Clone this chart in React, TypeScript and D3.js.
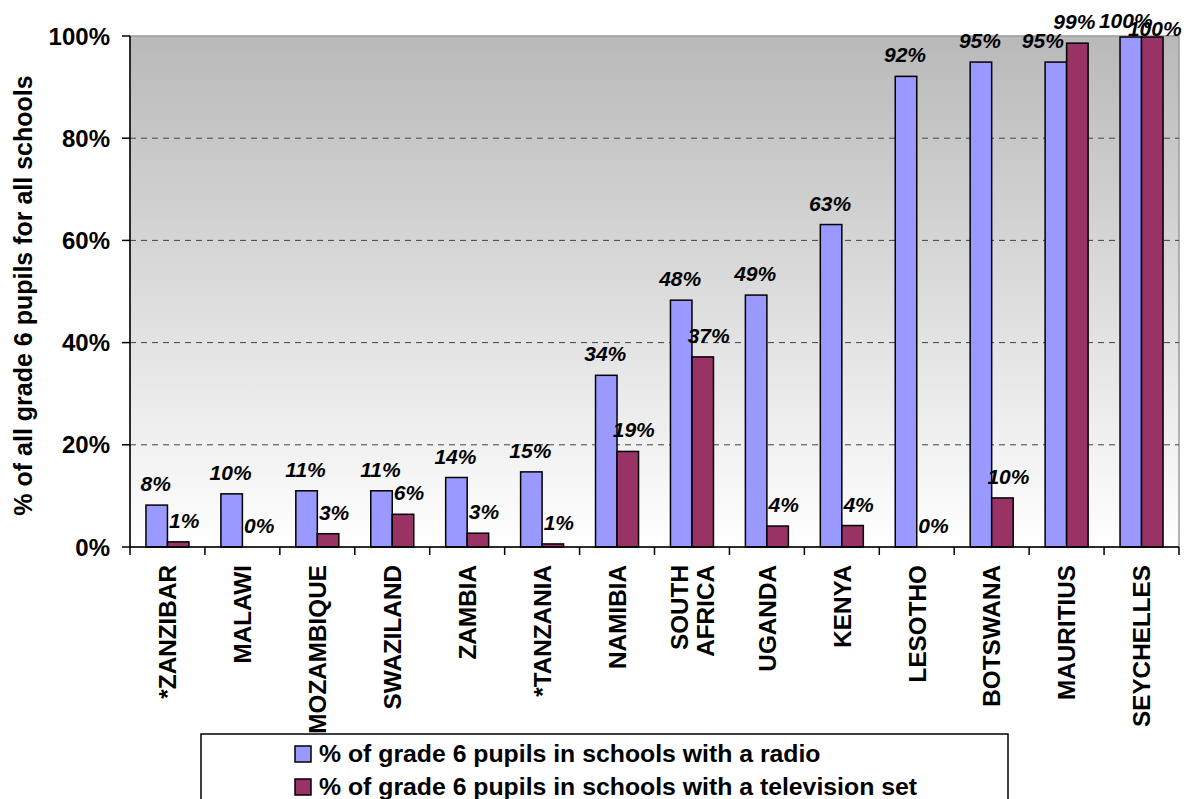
import React from 'react';
import * as d3 from 'd3';

const categories = ['*ZANZIBAR', 'MALAWI', 'MOZAMBIQUE', 'SWAZILAND', 'ZAMBIA', '*TANZANIA', 'NAMIBIA', 'SOUTH AFRICA', 'UGANDA', 'KENYA', 'LESOTHO', 'BOTSWANA', 'MAURITIUS', 'SEYCHELLES'];
const radioValues = [8.2, 10.4, 11.0, 11.0, 13.6, 14.7, 33.6, 48.3, 49.3, 63.1, 92.1, 94.9, 94.9, 99.8];
const tvValues = [1.0, 0.0, 2.6, 6.4, 2.7, 0.6, 18.7, 37.2, 4.1, 4.2, 0.0, 9.6, 98.6, 99.8];
const yTicks = [0, 20, 40, 60, 80, 100];
const seriesNames = ['% of grade 6 pupils in schools with a radio', '% of grade 6 pupils in schools with a television set'];
const seriesColors = ['#9999FF', '#993366'];

const W = 1184;
const H = 799;
const M = { left: 130, right: 1179, top: 36, bottom: 547 };
const FONT = '"Liberation Sans", Arial, Helvetica, sans-serif';

export default function App() {
  const x = d3.scaleBand<string>().domain(categories).range([M.left, M.right]).paddingInner(0).paddingOuter(0);
  const y = d3.scaleLinear().domain([0, 100]).range([M.bottom, M.top]);
  const bw = x.bandwidth();
  const barW = bw * 0.287;
  const groupOff = (bw - 2 * barW) / 2;

  const boundaries = d3.range(categories.length + 1).map((i) => M.left + i * bw);

  const labels: { x: number; y: number; text: string; key: string }[] = [];
  categories.forEach((c, i) => {
    const x0 = (x(c) as number) + groupOff;
    const rv = radioValues[i];
    const tv = tvValues[i];
    const rcx = x0 + barW / 2;
    const tcx = x0 + barW * 1.5;
    let ry = Math.max(y(rv) - 14, 28);
    let ty = Math.max(y(tv) - 14, 28);
    let rdx = -1;
    let tdx = 6;
    if (Math.abs(ry - ty) < 22) {
      if (Math.abs(ry - ty) < 6) {
        ty = ry + 8;
        rdx = -5;
        tdx = 2.5;
      } else {
        rdx = -13;
        tdx = -3;
      }
    }
    labels.push({ x: rcx + rdx, y: ry, text: Math.round(rv) + '%', key: 'r' + i });
    labels.push({ x: tcx + tdx, y: ty, text: Math.round(tv) + '%', key: 't' + i });
  });

  return (
    <svg width={W} height={H} style={{ position: 'absolute', left: 0, top: 0, background: '#fff' }} fontFamily={FONT}>
      <defs>
        <linearGradient id="bg" x1="0" y1="0" x2="0" y2="1">
          <stop offset="0%" stopColor="#b9b9b9" />
          <stop offset="100%" stopColor="#ffffff" />
        </linearGradient>
      </defs>
      <rect x={M.left} y={M.top} width={M.right - M.left} height={M.bottom - M.top} fill="url(#bg)" stroke="#9a9a9a" strokeWidth={1.5} />
      {yTicks.filter((t) => t > 0 && t < 100).map((t) => (
        <line key={'g' + t} x1={M.left} x2={M.right} y1={y(t)} y2={y(t)} stroke="#444" strokeWidth={1} strokeDasharray="6,5" />
      ))}
      {categories.map((c, i) => {
        const x0 = (x(c) as number) + groupOff;
        return (
          <g key={c}>
            {radioValues[i] > 0 && (
              <rect x={x0} y={y(radioValues[i])} width={barW} height={y(0) - y(radioValues[i])} fill={seriesColors[0]} stroke="#000" strokeWidth={1.5} />
            )}
            {tvValues[i] > 0 && (
              <rect x={x0 + barW} y={y(tvValues[i])} width={barW} height={y(0) - y(tvValues[i])} fill={seriesColors[1]} stroke="#000" strokeWidth={1.5} />
            )}
          </g>
        );
      })}
      <line x1={M.left} x2={M.left} y1={M.top} y2={M.bottom} stroke="#000" strokeWidth={1.5} />
      <line x1={M.left} x2={M.right} y1={M.bottom} y2={M.bottom} stroke="#000" strokeWidth={1.5} />
      {yTicks.map((t) => (
        <g key={'yt' + t}>
          <line x1={M.left - 8} x2={M.left} y1={y(t)} y2={y(t)} stroke="#000" strokeWidth={1.5} />
          <text x={110} y={y(t)} dy="0.36em" textAnchor="end" fontSize={24} fontWeight="bold" fill="#000">{t + '%'}</text>
        </g>
      ))}
      {boundaries.map((bx, i) => (
        <line key={'xt' + i} x1={bx} x2={bx} y1={M.bottom} y2={M.bottom + 8} stroke="#000" strokeWidth={1.5} />
      ))}
      {categories.map((c) => {
        const cx = (x(c) as number) + bw / 2;
        const words = c === 'SOUTH AFRICA' ? ['SOUTH', 'AFRICA'] : [c];
        const lh = 26;
        return (
          <g key={'cl' + c} transform={`translate(${cx},565) rotate(-90)`}>
            {words.map((w, j) => (
              <text key={w} x={0} y={(j - (words.length - 1) / 2) * lh} dy="0.36em" textAnchor="end" fontSize={24.3} fontWeight="bold" fill="#000">{w}</text>
            ))}
          </g>
        );
      })}
      {labels.map((l) => (
        <text key={l.key} x={l.x} y={l.y} textAnchor="middle" fontSize={21} fontWeight="bold" fontStyle="italic" fill="#000">{l.text}</text>
      ))}
      <text transform={`translate(23,${(M.top + M.bottom) / 2 + 4}) rotate(-90)`} textAnchor="middle" dy="0.36em" fontSize={25} fontWeight="bold" fill="#000">% of all grade 6 pupils for all schools</text>
      <rect x={201} y={734} width={807} height={80} fill="#fff" stroke="#000" strokeWidth={1.5} />
      {seriesNames.map((n, i) => (
        <g key={n}>
          <rect x={295} y={746 + i * 33} width={16} height={16} fill={seriesColors[i]} stroke="#000" strokeWidth={1.5} />
          <text x={319} y={762 + i * 33} fontSize={24.8} fontWeight="bold" fill="#000">{n}</text>
        </g>
      ))}
    </svg>
  );
}
